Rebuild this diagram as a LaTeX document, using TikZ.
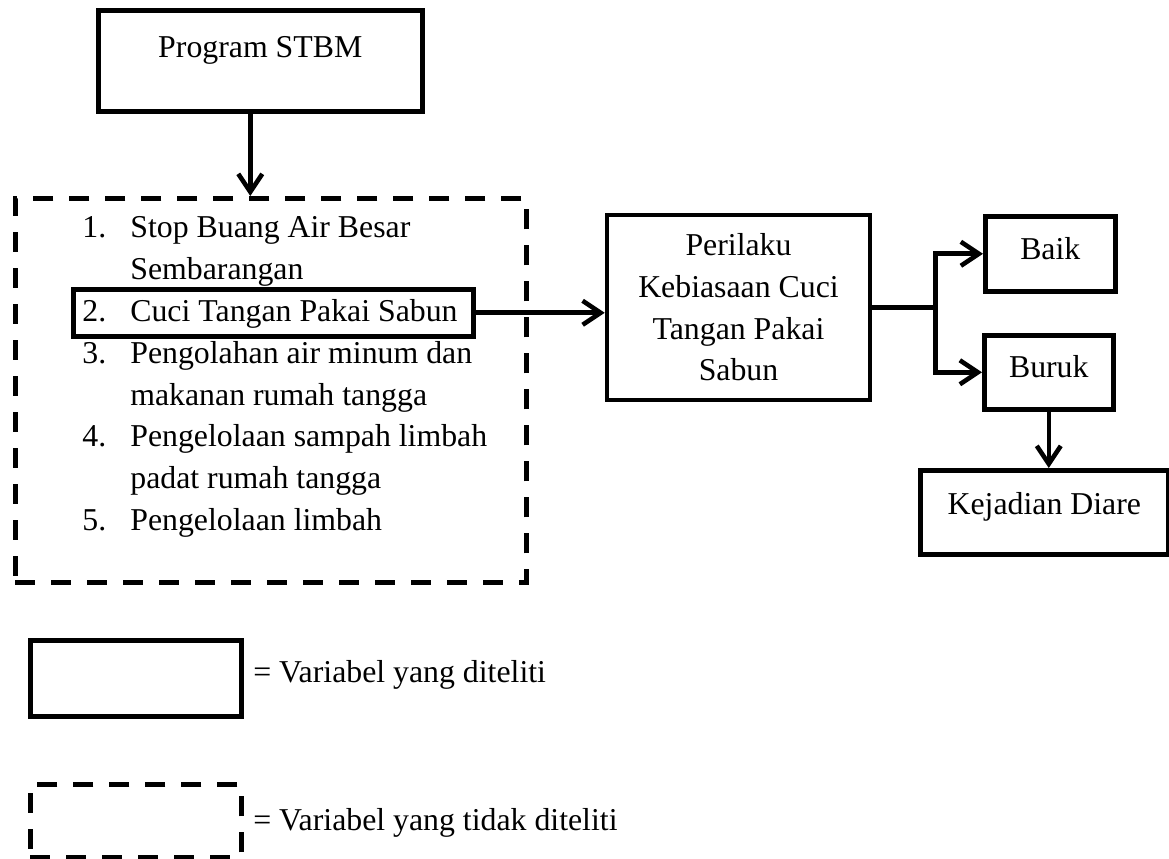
\documentclass[tikz,border=0pt]{standalone}
\usepackage{fontspec}
\setmainfont{Liberation Serif}
\usetikzlibrary{arrows.meta}

\tikzset{
    box/.style={draw, line width=2.6pt, inner sep=0pt, align=center},
    dashbox/.style={draw, line width=2.8pt, inner sep=0pt, dash pattern=on 0.4cm off 0.32cm},
    conn/.style={->, line width=2.6pt},
    txt/.style={anchor=base west, inner sep=0pt},
}

\begin{document}
\begin{tikzpicture}[>={Straight Barb[length=0.36cm,width=0.48cm]}, font=\fontsize{18.1pt}{23.7pt}\selectfont]
        \useasboundingbox (0,0) rectangle (23.38,17.18);

        \node[box, anchor=north west, minimum width=6.48cm, text height=0.95cm, text depth=1.07cm] (stbm) at (1.92,17.02) {Program STBM};

        \node[dashbox, anchor=north west, minimum width=10.22cm, minimum height=7.68cm] (pilar) at (0.26,13.26) {};
        \coordinate (stbmout) at ([xshift=-0.2cm]stbm.south);
        \draw[conn] (stbmout) -- (stbmout |- pilar.north);

        % lima pilar STBM
        \node[txt] (n1) at (1.64,12.42) {1.};
        \node[txt] (t1a) at (2.60,12.42) {Stop Buang Air Besar};
        \node[txt] (t1b) at (2.60,11.58) {Sembarangan};

        \node[txt] (n2) at (1.64,10.75) {2.};
        \node[txt] (t2) at (2.60,10.75) {Cuci Tangan Pakai Sabun};
        \node[box, anchor=north west, minimum width=8.0cm, minimum height=0.94cm] (cuci) at (1.42,11.44) {};

        \node[txt] (n3) at (1.64,9.91) {3.};
        \node[txt] (t3a) at (2.60,9.91) {Pengolahan air minum dan};
        \node[txt] (t3b) at (2.60,9.07) {makanan rumah tangga};

        \node[txt] (n4) at (1.64,8.24) {4.};
        \node[txt] (t4a) at (2.60,8.24) {Pengelolaan sampah limbah};
        \node[txt] (t4b) at (2.60,7.40) {padat rumah tangga};

        \node[txt] (n5) at (1.64,6.56) {5.};
        \node[txt] (t5) at (2.60,6.56) {Pengelolaan limbah};

        \node[box, minimum width=5.26cm, minimum height=3.70cm] (perilaku) at (14.77,11.03) {Perilaku\\Kebiasaan Cuci\\Tangan Pakai\\Sabun};
        \draw[conn] (cuci.east) -- (cuci.east -| perilaku.west);

        \node[box, anchor=north west, minimum width=2.60cm, text height=0.87cm, text depth=0.63cm] (baik) at (19.66,12.90) {Baik};
        \node[box, anchor=north west, minimum width=2.58cm, text height=0.85cm, text depth=0.63cm] (buruk) at (19.64,10.52) {Buruk};
        \node[box, anchor=north west, minimum width=4.96cm, text height=0.89cm, text depth=0.79cm] (diare) at (18.36,7.82) {Kejadian Diare};

        \coordinate (split) at ([xshift=1.26cm]perilaku.east);
        \draw[conn] (perilaku.east) -- (split) |- (baik.west);
        \draw[conn] (split) |- (buruk.west);
        \draw[conn] (buruk.south) -- (buruk.south |- diare.north);

        % keterangan
        \node[box, anchor=north west, minimum width=4.22cm, minimum height=1.52cm] (legsolid) at (0.56,4.42) {};
        \node[txt] (legsolidtxt) at (5.06,3.53) {= Variabel yang diteliti};

        \node[dashbox, anchor=north west, minimum width=4.22cm, minimum height=1.46cm] (legdash) at (0.56,1.54) {};
        \node[txt] (legdashtxt) at (5.06,0.57) {= Variabel yang tidak diteliti};

    \end{tikzpicture}
\end{document}
